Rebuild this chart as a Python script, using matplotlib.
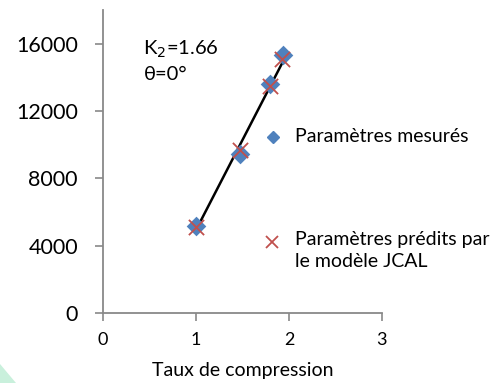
import matplotlib
matplotlib.use("Agg")
import matplotlib.pyplot as plt
import matplotlib.patches as mpatches

plt.rcParams["font.family"] = ["Lato", "DejaVu Sans"]

# ── data ─────────────────────────────────────────────────────────────────────
x_mes = [1.00, 1.47, 1.80, 1.94]
y_mes = [5150, 9420, 13630, 15350]

x_pred = [1.00, 1.47, 1.80, 1.93]
y_pred = [5100, 9660, 13510, 15110]

x_fit = [1.00, 1.93]
y_fit = [4920, 14870]

x_ticks = [0, 1, 2, 3]
y_ticks = [0, 4000, 8000, 12000, 16000]

AXIS_C = "#898989"

# ── figure ───────────────────────────────────────────────────────────────────
fig = plt.figure(figsize=(4.94, 3.83), dpi=100)
fig.patch.set_facecolor("white")

# faint green page decoration bottom-left
fig.patches.append(mpatches.Polygon(
    [(0, 0), (16 / 494, 0), (0, 19 / 383)], closed=True,
    transform=fig.transFigure, facecolor="#c9f0dc", edgecolor="none",
    zorder=0))

ax = fig.add_axes([0.2085, 0.183, 0.5645, 0.791])
ax.set_xlim(0, 3)
ax.set_ylim(0, 18000)

ax.plot(x_fit, y_fit, color="black", lw=1.8, zorder=2)
ax.scatter(x_mes, y_mes, marker="D", s=100, color="#4f81bd", zorder=3,
           linewidths=0)
ax.scatter(x_pred, y_pred, marker="x", s=120, color="#c0504d", zorder=4,
           linewidths=1.3)

ax.set_xticks(x_ticks)
ax.set_yticks(y_ticks)
ax.tick_params(axis="both", colors=AXIS_C, labelcolor="black",
               length=6, width=1.2)
ax.tick_params(axis="y", pad=12, labelsize=15.5)
ax.tick_params(axis="x", pad=8, labelsize=13)

for side in ["top", "right"]:
    ax.spines[side].set_visible(False)
for side in ["left", "bottom"]:
    ax.spines[side].set_color(AXIS_C)
    ax.spines[side].set_linewidth(1.3)

ax.set_xlabel("Taux de compression", fontsize=14, labelpad=10)

ax.text(0.145, 0.905, "K$_2$=1.66\nθ=0°", transform=ax.transAxes,
        fontsize=14.5, va="top", ha="left", linespacing=1.45)

# legend drawn as free text, placed to the right of the data
fig.lines.append(plt.Line2D([273 / 494], [1 - 137 / 383], marker="D",
                            markersize=6.5, color="#4f81bd", lw=0,
                            transform=fig.transFigure))
fig.text(295 / 494, 1 - 137 / 383, "Paramètres mesurés", fontsize=14,
         va="center", ha="left")
fig.lines.append(plt.Line2D([272 / 494], [1 - 242 / 383], marker="x",
                            markersize=8, color="#c0504d", lw=0, mew=1.3,
                            transform=fig.transFigure))
fig.text(295 / 494, 1 - 231 / 383, "Paramètres prédits par\nle modèle JCAL",
         fontsize=14, va="top", ha="left", linespacing=1.35)

fig.savefig("out.png", dpi=100)
